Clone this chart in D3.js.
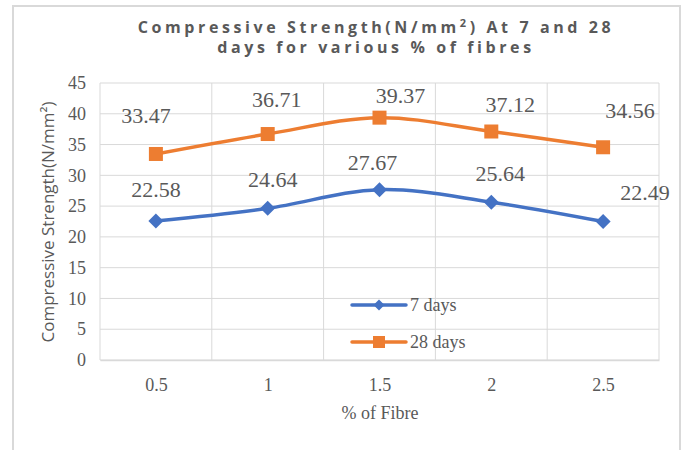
<!DOCTYPE html>
<html>
<head>
<meta charset="utf-8">
<script src="https://cdn.jsdelivr.net/npm/d3@7/dist/d3.min.js"></script>
<style>
  html, body { margin: 0; padding: 0; background: #fff; }
  svg { display: block; }
</style>
</head>
<body>
<svg id="chart" width="688" height="450"></svg>
<script>
// Fibre content (%) on the x axis
const categories = ["0.5", "1", "1.5", "2", "2.5"];
// Compressive strength (N/mm²)
const days7 = [22.58, 24.64, 27.67, 25.64, 22.49];
const days28 = [33.47, 36.71, 39.37, 37.12, 34.56];
const seriesNames = ["7 days", "28 days"];
const yTicks = [0, 5, 10, 15, 20, 25, 30, 35, 40, 45];

// Label placement relative to each point (layout only)
const labelOffset7 = [[0, -24], [5, -21], [-7, -20], [9, -21], [42, -22]];
const labelOffset28 = [[-10, -31], [9, -27], [21, -15], [19, -20], [27, -29]];

const svg = d3.select("#chart");
const grey = "#595959";
const gridColor = "#d9d9d9";
const colors = ["#4472C4", "#ED7D31"];

const plot = { left: 100, right: 659, top: 83, bottom: 360 };

// Outer chart frame (bottom edge runs off the page)
svg.append("path")
  .attr("d", `M13,452 L13,6 L680,6 L680,452`)
  .attr("fill", "none").attr("stroke", gridColor).attr("stroke-width", 2);

const xBand = d3.scaleBand().domain(categories).range([plot.left, plot.right]);
const x = d3.scalePoint().domain(categories).range([plot.left, plot.right]).padding(0.5);
const y = d3.scaleLinear().domain([0, 45]).range([plot.bottom, plot.top]);

// Horizontal gridlines
svg.append("g").selectAll("line").data(yTicks).join("line")
  .attr("x1", plot.left).attr("x2", plot.right)
  .attr("y1", d => y(d)).attr("y2", d => y(d))
  .attr("stroke", gridColor).attr("stroke-width", 1);

// Vertical gridlines at category boundaries
const bounds = categories.map(c => xBand(c)).concat([xBand.range()[1]]);
svg.append("g").selectAll("line").data(bounds).join("line")
  .attr("x1", d => d).attr("x2", d => d)
  .attr("y1", plot.top).attr("y2", plot.bottom)
  .attr("stroke", gridColor).attr("stroke-width", 1);

// Y axis tick labels
const yAxis = d3.axisLeft(y).tickValues(yTicks).tickSize(0).tickPadding(14);
const gy = svg.append("g").attr("transform", `translate(${plot.left},0)`).call(yAxis);
gy.select(".domain").remove();
gy.selectAll("text")
  .attr("font-family", "'Liberation Serif', serif").attr("font-size", 18).attr("fill", grey);

// X axis tick labels
const xAxis = d3.axisBottom(x).tickSize(0).tickPadding(18);
const gx = svg.append("g").attr("transform", `translate(0,${plot.bottom})`).call(xAxis);
gx.select(".domain").attr("stroke", gridColor).attr("stroke-width", 1.5);
gx.selectAll("text")
  .attr("font-family", "'Liberation Serif', serif").attr("font-size", 18).attr("fill", grey);

// Axis titles
svg.append("text")
  .attr("transform", `translate(54,222) rotate(-90)`)
  .attr("text-anchor", "middle")
  .attr("font-family", "'Open Sans', sans-serif").attr("font-size", 17).attr("fill", grey)
  .text("Compressive Strength(N/mm²)");

svg.append("text")
  .attr("x", 380).attr("y", 419)
  .attr("text-anchor", "middle")
  .attr("font-family", "'Liberation Serif', serif").attr("font-size", 18).attr("fill", grey)
  .text("% of Fibre");

// Title
const title = svg.append("text")
  .attr("text-anchor", "middle")
  .attr("font-family", "'Open Sans', sans-serif").attr("font-size", 16)
  .attr("font-weight", "bold").attr("fill", grey)
  .attr("letter-spacing", 3.6);
title.append("tspan").attr("x", 376).attr("y", 33).text("Compressive Strength(N/mm");
title.append("tspan").attr("dy", -6).attr("font-size", 11).text("2");
title.append("tspan").attr("dy", 6).text(") At 7 and 28");
title.append("tspan").attr("x", 376).attr("y", 53).text("days for various % of fibres");

// Series
const series = [
  { name: seriesNames[0], values: days7, color: colors[0], shape: "diamond", offsets: labelOffset7 },
  { name: seriesNames[1], values: days28, color: colors[1], shape: "square", offsets: labelOffset28 }
];

const line = d3.line()
  .x((d, i) => x(categories[i]))
  .y(d => y(d))
  .curve(d3.curveCardinal.tension(0));

function marker(g, shape, cx, cy, size, color) {
  if (shape === "diamond") {
    const r = size / 2;
    g.append("path")
      .attr("d", `M${cx},${cy - r} L${cx + r},${cy} L${cx},${cy + r} L${cx - r},${cy} Z`)
      .attr("fill", color);
  } else {
    g.append("rect")
      .attr("x", cx - size / 2).attr("y", cy - size / 2)
      .attr("width", size).attr("height", size)
      .attr("fill", color);
  }
}

series.forEach(s => {
  const g = svg.append("g");
  g.append("path")
    .datum(s.values)
    .attr("d", line)
    .attr("fill", "none")
    .attr("stroke", s.color)
    .attr("stroke-width", 3.5)
    .attr("stroke-linecap", "round");
  s.values.forEach((v, i) => {
    marker(g, s.shape, x(categories[i]), y(v), s.shape === "diamond" ? 15 : 14, s.color);
  });
  g.selectAll("text.lbl").data(s.values).join("text")
    .attr("class", "lbl")
    .attr("x", (d, i) => x(categories[i]) + s.offsets[i][0])
    .attr("y", (d, i) => y(d) + s.offsets[i][1])
    .attr("text-anchor", "middle")
    .attr("font-family", "'Liberation Serif', serif").attr("font-size", 22)
    .attr("fill", grey)
    .text(d => d.toFixed(2));
});

// Legend
const legendY = [305, 342];
series.forEach((s, i) => {
  const g = svg.append("g");
  g.append("line")
    .attr("x1", 352).attr("x2", 406)
    .attr("y1", legendY[i]).attr("y2", legendY[i])
    .attr("stroke", s.color).attr("stroke-width", 3.5).attr("stroke-linecap", "round");
  marker(g, s.shape, 379, legendY[i], s.shape === "diamond" ? 11 : 12, s.color);
  g.append("text")
    .attr("x", 410).attr("y", legendY[i] + 6)
    .attr("font-family", "'Liberation Serif', serif").attr("font-size", 18)
    .attr("fill", grey)
    .text(s.name);
});
</script>
</body>
</html>
